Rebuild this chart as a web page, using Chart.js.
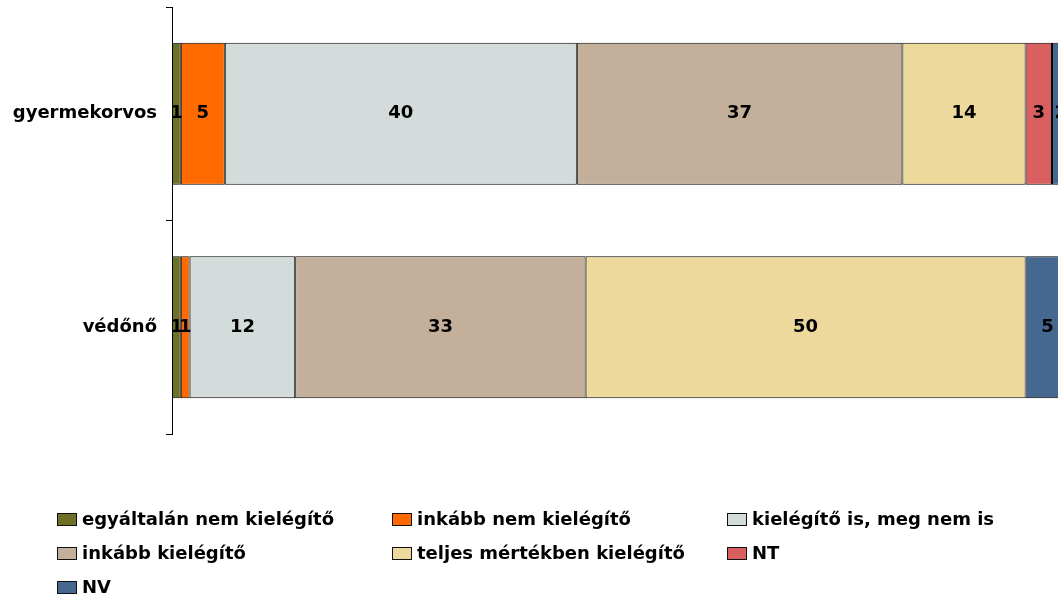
<!DOCTYPE html>
<html>
<head>
<meta charset="utf-8">
<script src="https://cdn.jsdelivr.net/npm/chart.js@4/dist/chart.umd.min.js"></script>
<style>
  html, body { margin: 0; padding: 0; background: #fff; }
  #wrap { position: relative; width: 1058px; height: 595px; }
</style>
</head>
<body>
<div id="wrap"><canvas id="chart"></canvas></div>
<script>
const categories = ['gyermekorvos', 'védőnő'];

const seriesLabels = [
  'egyáltalán nem kielégítő',
  'inkább nem kielégítő',
  'kielégítő is, meg nem is',
  'inkább kielégítő',
  'teljes mértékben kielégítő',
  'NT',
  'NV',
];

const seriesColors = ['#6E7027', '#FF6A00', '#D4DCDB', '#C4B09A', '#EDD99C', '#D95F60', '#456891'];

// one array per series: [gyermekorvos, védőnő]
const egyaltalanNem = [1, 1];
const inkabbNem = [5, 1];
const semSem = [40, 12];
const inkabbKiel = [37, 33];
const teljesen = [14, 50];
const nt = [3, 0];
const nv = [2, 5];

const seriesValues = [egyaltalanNem, inkabbNem, semSem, inkabbKiel, teljesen, nt, nv];

const FONT = 'DejaVu Sans, Verdana, sans-serif';

const valueLabels = {
  id: 'valueLabels',
  afterDatasetsDraw(chart) {
    const ctx = chart.ctx;
    ctx.save();
    ctx.font = `bold 18px ${FONT}`;
    ctx.fillStyle = '#000';
    ctx.textAlign = 'center';
    ctx.textBaseline = 'middle';
    chart.data.datasets.forEach((ds, i) => {
      const meta = chart.getDatasetMeta(i);
      meta.data.forEach((bar, j) => {
        const v = ds.data[j];
        if (!v) return;
        const x = (bar.x + bar.base) / 2;
        ctx.fillText(String(v), x, bar.y);
      });
    });
    ctx.restore();
  },
};

const gridLegend = {
  id: 'gridLegend',
  afterDraw(chart) {
    const ctx = chart.ctx;
    const left = 57, colW = 335, top = 519, rowH = 34;
    ctx.save();
    ctx.font = `bold 18px ${FONT}`;
    ctx.textBaseline = 'middle';
    ctx.textAlign = 'left';
    chart.data.datasets.forEach((ds, i) => {
      const x = left + (i % 3) * colW;
      const y = top + Math.floor(i / 3) * rowH;
      ctx.fillStyle = ds.backgroundColor;
      ctx.fillRect(x + 0.5, y - 6 + 0.5, 19, 12);
      ctx.strokeStyle = '#111';
      ctx.lineWidth = 1;
      ctx.strokeRect(x + 0.5, y - 6 + 0.5, 19, 12);
      ctx.fillStyle = '#000';
      ctx.fillText(ds.label, x + 25, y + 1);
    });
    ctx.restore();
  },
};

new Chart(document.getElementById('chart'), {
  type: 'bar',
  data: {
    labels: categories,
    datasets: seriesLabels.map((label, i) => ({
      label,
      data: seriesValues[i],
      backgroundColor: seriesColors[i],
      borderColor: '#000',
      borderWidth: 1,
      borderSkipped: false,
      categoryPercentage: 1,
      barPercentage: 0.665,
      clip: false,
    })),
  },
  options: {
    indexAxis: 'y',
    responsive: true,
    maintainAspectRatio: false,
    animation: false,
    layout: { padding: { top: 7, right: 6, bottom: 161, left: 0 } },
    scales: {
      x: {
        stacked: true,
        display: false,
        min: 0,
        max: 100,
      },
      y: {
        stacked: true,
        afterFit: (s) => {
          s.width = 172;
          s.paddingTop = 0;
          s.paddingBottom = 0;
        },
        border: { display: true, color: '#000', width: 1 },
        grid: { drawOnChartArea: false, drawTicks: true, tickLength: 6, color: '#000', offset: true },
        ticks: { color: '#000', padding: 9, font: { family: FONT, size: 18, weight: 'bold' } },
      },
    },
    plugins: {
      legend: { display: false },
      tooltip: { enabled: false },
    },
  },
  plugins: [valueLabels, gridLegend],
});
</script>
</body>
</html>
